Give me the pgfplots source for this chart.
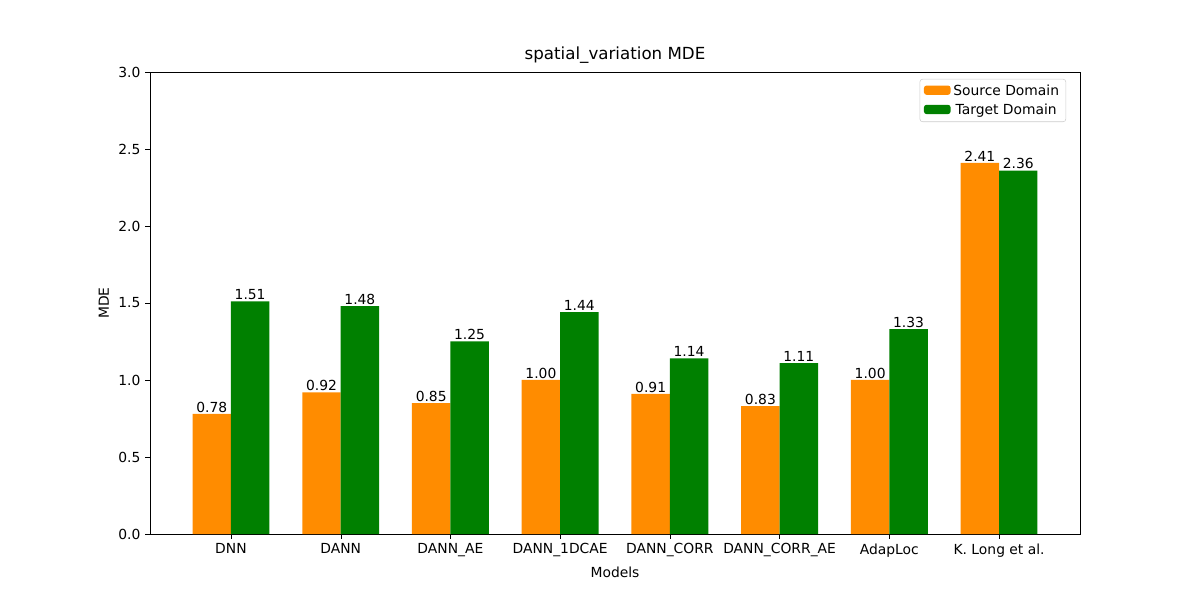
\documentclass[border=0pt]{standalone}
\usepackage{pgfplots}
\pgfplotsset{compat=1.18}
\usepackage{fontspec}
\setmainfont{DejaVu Sans}
\definecolor{morange}{RGB}{255,140,0}
\definecolor{mgreen}{RGB}{0,128,0}
\begin{document}
\fontsize{10.4}{12}\selectfont
\begin{tikzpicture}
\path (-112.5pt,-49.5pt) rectangle (787.5pt,400.5pt);
\begin{axis}[
  at={(0,0)}, anchor=south west,
  scale only axis, width=697.5pt, height=346.5pt,
  xmin=-0.7375, xmax=7.7375, ymin=0, ymax=3,
  ytick={0,0.5,1,1.5,2,2.5,3},
  yticklabel style={/pgf/number format/.cd,fixed,fixed zerofill,precision=1},
  /pgf/number format/assume math mode=true,
  xtick={0,...,7},
  xticklabels={DNN,DANN,DANN\_AE,DANN\_1DCAE,DANN\_CORR,DANN\_CORR\_AE,AdapLoc,K. Long et al.},
  tick align=outside, tick style={black}, major tick length=3.5pt,
  xtick pos=bottom, ytick pos=left,
  xlabel={Models}, ylabel={MDE},
  title={\fontsize{12.5}{14}\selectfont spatial\_variation MDE},
  title style={yshift=-3pt},
  ybar, bar width=0.35,
  nodes near coords,
  every node near coord/.append style={font=\fontsize{10.4}{12}\selectfont, inner sep=1pt},
  nodes near coords style={/pgf/number format/.cd,fixed,fixed zerofill,precision=2},
  legend style={at={(0.985,0.985)}, anchor=north east, draw=black!20, rounded corners=2pt, font=\fontsize{10.4}{12}\selectfont, row sep=1pt},
  legend image code/.code={\draw[#1,draw=none] (0pt,-3pt) rectangle (20pt,4pt);},
]
\addplot[fill=morange, draw=none, bar shift=-0.175] coordinates {(0,0.78)(1,0.92)(2,0.85)(3,1.00)(4,0.91)(5,0.83)(6,1.00)(7,2.41)};
\addplot[fill=mgreen, draw=none, bar shift=0.175] coordinates {(0,1.51)(1,1.48)(2,1.25)(3,1.44)(4,1.14)(5,1.11)(6,1.33)(7,2.36)};
\legend{Source Domain, Target Domain}
\end{axis}
\end{tikzpicture}
\end{document}
